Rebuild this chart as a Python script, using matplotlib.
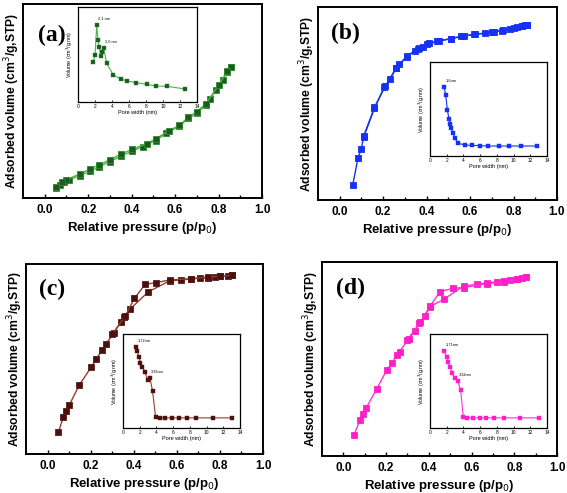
import numpy as np
import matplotlib
matplotlib.use("Agg")
from matplotlib import pyplot as plt

plt.rcParams['font.family'] = ['Liberation Sans', 'DejaVu Sans']

# ---- isotherm data (relative pressure, adsorbed volume in arbitrary units) ----
a_ads_p = [0.05, 0.07, 0.09, 0.11, 0.16, 0.21, 0.25, 0.30, 0.35, 0.40, 0.45, 0.51,
           0.56, 0.62, 0.66, 0.70, 0.74, 0.76, 0.79, 0.82, 0.84, 0.855]
a_ads_v = [5.0, 6.5, 8.0, 9.3, 11.5, 13.8, 16.0, 18.8, 21.5, 24.0, 26.5, 29.5,
           33.5, 37.0, 41.0, 43.6, 47.9, 50.9, 55.7, 60.8, 65.1, 67.7]
a_des_p = [0.855, 0.84, 0.80, 0.74, 0.70, 0.66, 0.62, 0.57, 0.51, 0.47, 0.40,
           0.35, 0.30, 0.25, 0.21, 0.16, 0.10, 0.08, 0.05]
a_des_v = [67.7, 65.5, 58.0, 48.5, 44.5, 41.5, 37.5, 34.5, 30.5, 28.0, 25.0,
           22.5, 19.8, 17.0, 15.0, 12.3, 9.5, 8.0, 5.5]

b_ads_p = [0.06, 0.084, 0.099, 0.11, 0.16, 0.205, 0.233, 0.259, 0.274, 0.309, 0.347,
           0.365, 0.385, 0.411, 0.457, 0.513, 0.571, 0.624, 0.67, 0.708, 0.746,
           0.784, 0.814, 0.837, 0.852, 0.86]
b_ads_v = [7.8, 21.6, 26.4, 32.5, 47.5, 58.4, 62.7, 68.2, 70.3, 74.3, 77.4,
           78.6, 79.4, 81.2, 82.4, 83.6, 85.0, 85.8, 86.4, 87.2, 87.7,
           88.4, 89.4, 90.2, 90.7, 90.8]
b_des_p = [0.86, 0.84, 0.80, 0.75, 0.70, 0.62, 0.56, 0.51, 0.45, 0.40, 0.36, 0.31, 0.26, 0.21, 0.16, 0.11]
b_des_v = [90.8, 90.3, 89.0, 88.0, 87.0, 85.8, 84.8, 83.6, 82.2, 80.6, 78.4, 74.5, 68.5, 59.0, 48.0, 33.0]

c_ads_p = [0.05, 0.073, 0.086, 0.101, 0.147, 0.202, 0.225, 0.253, 0.271, 0.306, 0.341,
           0.357, 0.383, 0.468, 0.566, 0.62, 0.667, 0.706, 0.744, 0.775, 0.799, 0.837, 0.856]
c_ads_v = [11.4, 19.3, 22.8, 25.8, 36.3, 45.6, 49.8, 54.7, 57.9, 63.5, 69.6,
           72.3, 76.3, 85.4, 91.1, 91.6, 92.1, 92.5, 92.8, 93.2, 93.5, 93.8, 94.1]
c_des_p = [0.856, 0.80, 0.745, 0.667, 0.566, 0.504, 0.453, 0.403, 0.36, 0.30]
c_des_v = [94.1, 93.5, 93.2, 92.3, 91.6, 90.2, 89.3, 81.9, 72.5, 63.0]

d_ads_p = [0.05, 0.078, 0.091, 0.106, 0.156, 0.203, 0.227, 0.25, 0.263, 0.305, 0.336,
           0.356, 0.383, 0.406, 0.472, 0.563, 0.625, 0.672, 0.719, 0.75, 0.781,
           0.813, 0.836, 0.855]
d_ads_v = [10.8, 18.6, 21.5, 24.6, 34.5, 44.3, 47.8, 52.1, 53.8, 60.3, 64.4,
           68.4, 72.3, 77.0, 80.9, 87.6, 88.5, 89.3, 89.8, 90.2, 90.7,
           91.1, 91.6, 92.1]
d_des_p = [0.855, 0.813, 0.75, 0.672, 0.563, 0.511, 0.453, 0.406, 0.36, 0.30]
d_des_v = [92.1, 91.1, 89.7, 88.8, 86.8, 86.4, 84.7, 77.3, 69.0, 60.0]

# ---- pore size distribution insets (pore width nm, volume arbitrary) ----
a_pw = [1.8, 2.0, 2.2, 2.35, 2.5, 2.67, 2.86, 3.02, 3.37, 4.16, 5.0, 5.8, 6.8, 8.1, 9.2, 10.5, 12.6]
a_pv = [0.418, 0.495, 0.81, 0.653, 0.582, 0.487, 0.53, 0.565, 0.407, 0.284, 0.242,
        0.221, 0.204, 0.186, 0.168, 0.165, 0.137]

b_pw = [1.67, 1.88, 2.08, 2.28, 2.45, 2.57, 2.76, 2.97, 3.37, 4.18, 5.07, 6.0, 7.0,
        8.3, 9.48, 10.85, 12.8]
b_pv = [0.737, 0.649, 0.489, 0.39, 0.337, 0.295, 0.241, 0.188, 0.135, 0.117, 0.113,
        0.11, 0.106, 0.106, 0.106, 0.106, 0.106]

c_pw = [1.61, 1.73, 1.89, 2.09, 2.33, 2.62, 2.94, 3.22, 3.54, 3.9, 4.43, 5.03, 5.83,
        6.72, 7.64, 8.77, 10.74, 12.99]
c_pv = [0.857, 0.814, 0.76, 0.696, 0.646, 0.6, 0.51, 0.535, 0.393, 0.118, 0.111,
        0.108, 0.108, 0.108, 0.108, 0.108, 0.108, 0.108]

d_pw = [1.71, 1.99, 2.19, 2.39, 2.67, 2.99, 3.31, 3.67, 3.98, 4.46, 5.1, 5.98, 6.66,
        7.69, 8.89, 10.77, 13.04]
d_pv = [0.814, 0.76, 0.707, 0.653, 0.582, 0.529, 0.5, 0.404, 0.118, 0.111, 0.108,
        0.108, 0.108, 0.108, 0.108, 0.108, 0.108]

panels = [
    dict(tag='(a)', rect=[0.0406, 0.5984, 0.4215, 0.3935], inset=[0.1376, 0.7931, 0.2099, 0.1927],
         ads=(a_ads_p, a_ads_v), des=(a_des_p, a_des_v), psd=(a_pw, a_pv),
         face='#1d5a1d', edge='#2f8a2f', line='#49b649', lab=(0.12, 0.84),
         notes=[('2.1 nm', 2), ('3.0 nm', 7)]),
    dict(tag='(b)', rect=[0.5608, 0.5943, 0.4215, 0.3915], inset=[0.7584, 0.6836, 0.2063, 0.1907],
         ads=(b_ads_p, b_ads_v), des=(b_des_p, b_des_v), psd=(b_pw, b_pv),
         face='#1432f0', edge='#1432f0', line='#1432f0', lab=(0.117, 0.865),
         notes=[('1.6nm', 0)]),
    dict(tag='(c)', rect=[0.0459, 0.0791, 0.418, 0.3854], inset=[0.2169, 0.1318, 0.2063, 0.1907],
         ads=(c_ads_p, c_ads_v), des=(c_des_p, c_des_v), psd=(c_pw, c_pv),
         face='#4a0f0f', edge='#5a1a14', line='#8b4030', lab=(0.11, 0.868),
         notes=[('1.72nm', 0), ('3.39nm', 7)]),
    dict(tag='(d)', rect=[0.5679, 0.0751, 0.4145, 0.3935], inset=[0.7584, 0.1318, 0.2063, 0.1907],
         ads=(d_ads_p, d_ads_v), des=(d_des_p, d_des_v), psd=(d_pw, d_pv),
         face='#ff1fc8', edge='#ff1fc8', line='#ff33cc', lab=(0.123, 0.866),
         notes=[('1.71nm', 0), ('3.32nm', 6)]),
]

fig = plt.figure(figsize=(5.67, 4.93), dpi=100)

for pn in panels:
    ax = fig.add_axes(pn['rect'])
    for p, v in (pn['ads'], pn['des']):
        ax.plot(p, v, '-s', color=pn['line'], lw=1.0, ms=5,
                mfc=pn['face'], mec=pn['edge'], mew=0.6)
    ax.set_xlim(-0.1, 1.0)
    ax.set_ylim(0, 100)
    ax.set_xticks(np.arange(0, 1.01, 0.2))
    ax.set_xticks(np.arange(0.1, 1.0, 0.2), minor=True)
    ax.set_yticks([])
    ax.tick_params(axis='x', which='major', direction='in', length=3, width=1,
                   labelsize=8.5, pad=4)
    ax.tick_params(axis='x', which='minor', direction='in', length=2, width=1)
    for t in ax.get_xticklabels():
        t.set_fontweight('bold')
    for s in ax.spines.values():
        s.set_linewidth(1.4)
    ax.set_xlabel('Relative pressure (p/p$_0$)', fontsize=9.5, fontweight='bold', labelpad=3)
    ax.set_ylabel('Adsorbed volume (cm$^3$/g,STP)', fontsize=8.7, fontweight='bold', labelpad=1)
    ax.text(pn['lab'][0], pn['lab'][1], pn['tag'], transform=ax.transAxes,
            ha='center', va='center', fontsize=17, fontweight='bold',
            family='Liberation Serif')

    ins = fig.add_axes(pn['inset'])
    pw, pv = pn['psd']
    ins.plot(pw, pv, '-s', color=pn['line'], lw=0.8, ms=2.2,
             mfc=pn['face'], mec=pn['edge'], mew=0.3)
    ins.set_xlim(0, 14)
    ins.set_ylim(0, 1)
    ins.set_xticks(range(0, 15, 2))
    ins.set_yticks([])
    ins.tick_params(axis='x', direction='in', length=1.5, width=0.6, labelsize=3.5, pad=1.5)
    for s in ins.spines.values():
        s.set_linewidth(0.9)
    ins.set_xlabel('Pore width (nm)', fontsize=4, labelpad=1)
    ins.set_ylabel('Volume (cm$^3$/g.nm)', fontsize=3.8, labelpad=2)
    for txt, i in pn['notes']:
        ins.annotate(txt, (pw[i], pv[i]), xytext=(1, 3), textcoords='offset points',
                     ha='left', va='bottom', fontsize=2.8)

fig.savefig('out.png', dpi=100)
